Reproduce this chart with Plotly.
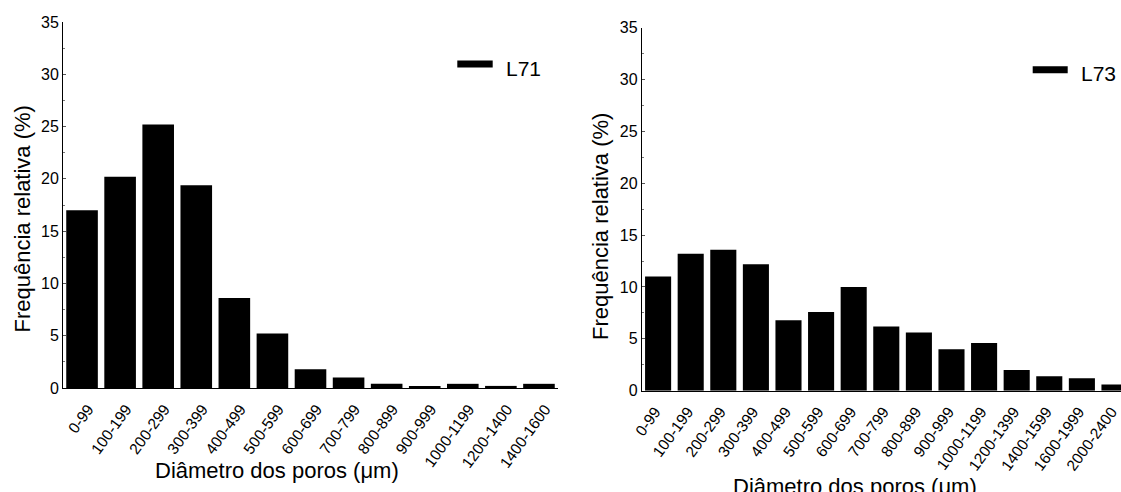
import plotly.graph_objects as go

W, H = 1121, 492

cats_l71 = ["0-99", "100-199", "200-299", "300-399", "400-499", "500-599", "600-699",
            "700-799", "800-899", "900-999", "1000-1199", "1200-1400", "1400-1600"]
vals_l71 = [17.0, 20.2, 25.2, 19.4, 8.6, 5.2, 1.8, 1.0, 0.4, 0.2, 0.4, 0.2, 0.4]

cats_l73 = ["0-99", "100-199", "200-299", "300-399", "400-499", "500-599", "600-699",
            "700-799", "800-899", "900-999", "1000-1199", "1200-1399", "1400-1599",
            "1600-1999", "2000-2400"]
vals_l73 = [11.0, 13.2, 13.6, 12.2, 6.8, 7.6, 10.0, 6.2, 5.6, 4.0, 4.6, 2.0, 1.4, 1.2, 0.6]

y_ticks = [0, 5, 10, 15, 20, 25, 30, 35]
legend_names = ["L71", "L73"]
x_title = "Diâmetro dos poros (\u03bcm)"
y_title = "Frequência relativa (%)"

FONT = "Liberation Sans, Arial, sans-serif"

def px(x):
    return x / W

def py(y):
    return 1 - y / H

fig = go.Figure()
fig.add_trace(go.Bar(x=cats_l71, y=vals_l71, width=0.83, marker=dict(color="black", line=dict(width=0)),
                     xaxis="x", yaxis="y", showlegend=False, name=legend_names[0]))
fig.add_trace(go.Bar(x=cats_l73, y=vals_l73, width=0.8, marker=dict(color="black", line=dict(width=0)),
                     xaxis="x2", yaxis="y2", showlegend=False, name=legend_names[1]))

common_x = dict(type="category", showline=True, linecolor="black", linewidth=1, ticks="",
                tickangle=-54, tickfont=dict(family=FONT, size=15.5, color="black"),
                ticklabelstandoff=5,
                showgrid=False, zeroline=False, fixedrange=True, automargin=False)
common_y = dict(range=[0, 35], tickvals=y_ticks, showline=True, linecolor="black", linewidth=1,
                ticks="inside", ticklen=3, tickcolor="#555", tickwidth=1,
                minor=dict(dtick=2.5, ticks="inside", ticklen=2, tickcolor="#777"),
                tickfont=dict(family=FONT, size=16, color="black"),
                showgrid=False, zeroline=False, fixedrange=True, automargin=False)

fig.update_layout(
    template="none",
    width=W, height=H,
    margin=dict(l=0, r=0, t=0, b=0, autoexpand=False),
    paper_bgcolor="white", plot_bgcolor="white",
    font=dict(family=FONT, color="black"),
    xaxis=dict(domain=[px(63), px(558)], anchor="y", range=[-0.5, 12.5], ticklabelshift=6, **common_x),
    yaxis=dict(domain=[py(388), py(22)], anchor="x", **common_y),
    xaxis2=dict(domain=[px(641.8), 1.0], anchor="y2", range=[-0.5, 14.2], ticklabelshift=-3, **common_x),
    yaxis2=dict(domain=[py(390.7), py(27.7)], anchor="x2", **common_y),
    showlegend=False,
)

annos = [
    dict(text=y_title, x=px(22), y=py(219.5), textangle=-90, font=dict(size=22)),
    dict(text=y_title, x=px(600), y=py(227), textangle=-90, font=dict(size=22)),
    dict(text=x_title, x=px(277), y=py(470), font=dict(size=22)),
    dict(text=x_title, x=px(855), y=py(486), font=dict(size=22)),
    dict(text=legend_names[0], x=px(504.3), y=py(68.7), xanchor="left", font=dict(size=21)),
    dict(text=legend_names[1], x=px(1079.3), y=py(73), xanchor="left", font=dict(size=21)),
]
for a in annos:
    a.setdefault("xanchor", "center")
    fig.add_annotation(xref="paper", yref="paper", yanchor="middle", showarrow=False,
                       **{k: v for k, v in a.items() if k != "font"},
                       font=dict(family=FONT, color="black", **a["font"]))

fig.add_shape(type="line", xref="paper", yref="paper", x0=px(457.3), x1=px(492.7), y0=py(64), y1=py(64),
              line=dict(color="black", width=7))
fig.add_shape(type="line", xref="paper", yref="paper", x0=px(1032.7), x1=px(1067.7), y0=py(69.7), y1=py(69.7),
              line=dict(color="black", width=7))

fig.write_html("out.html", config={"displayModeBar": False},
               post_script="document.body.style.margin='0';document.body.style.padding='0';")
